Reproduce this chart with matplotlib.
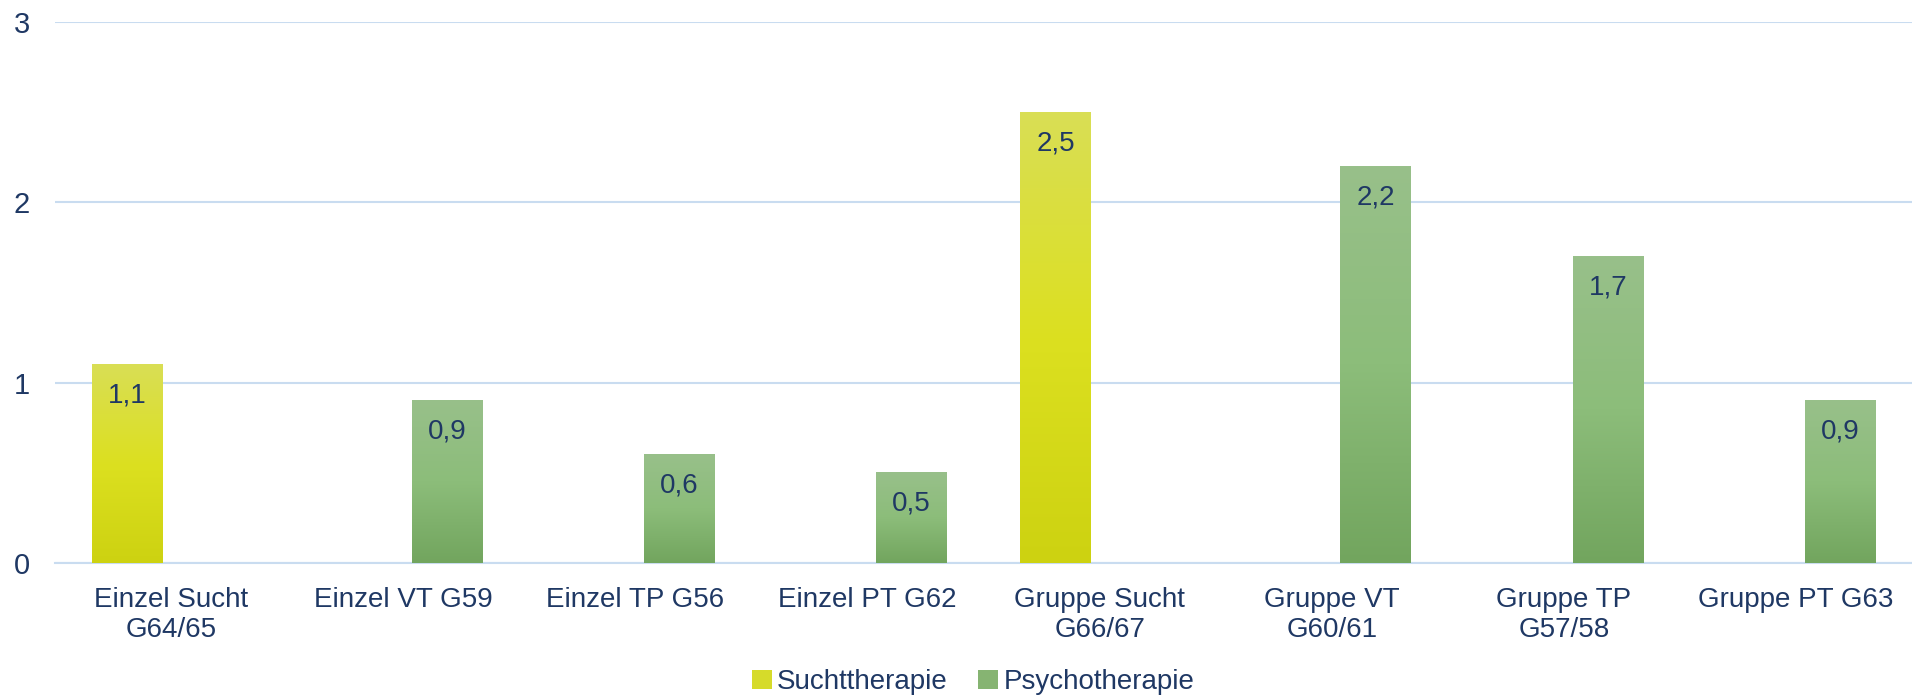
import numpy as np
import matplotlib.pyplot as plt
from matplotlib.colors import LinearSegmentedColormap
from matplotlib.patches import Patch

plt.rcParams['font.family'] = ['Liberation Sans', 'DejaVu Sans']

categories = ['Einzel Sucht\nG64/65', 'Einzel VT G59', 'Einzel TP G56', 'Einzel PT G62',
              'Gruppe Sucht\nG66/67', 'Gruppe VT\nG60/61', 'Gruppe TP\nG57/58', 'Gruppe PT G63']
sucht = [1.1, None, None, None, 2.5, None, None, None]
psycho = [None, 0.9, 0.6, 0.5, None, 2.2, 1.7, 0.9]
series_names = ['Suchttherapie', 'Psychotherapie']

navy = '#1F3864'
grid_col = '#C9DCF0'
sucht_cmap = LinearSegmentedColormap.from_list('s', ['#CDD211', '#DCE020', '#D9DE55'])
psycho_cmap = LinearSegmentedColormap.from_list('p', ['#72A55E', '#8CBD7A', '#98C08A'])

fig = plt.figure(figsize=(19.12, 6.95), dpi=100)
ax = fig.add_axes([0.0288, 0.19, 0.9712, 0.778])

x = np.arange(len(categories))
width = 0.305
offset = 0.19
grad = np.linspace(0, 1, 256).reshape(-1, 1)


def draw(vals, shift, cmap):
    for xi, v in zip(x, vals):
        if v is None:
            continue
        left = xi + shift - width / 2
        ax.imshow(grad, cmap=cmap, origin='lower', aspect='auto',
                  extent=[left, left + width, 0, v], zorder=3)
        ax.annotate(f'{v:.1f}'.replace('.', ','), (xi + shift, v), xytext=(0, -13),
                    textcoords='offset points', ha='center', va='top',
                    fontsize=20, color=navy, zorder=4)


draw(sucht, -offset, sucht_cmap)
draw(psycho, offset, psycho_cmap)

ax.set_xlim(-0.5, len(categories) - 0.5)
ax.set_ylim(0, 3)
ax.set_yticks([0, 1, 2, 3])
ax.set_xticks(x)
ax.set_xticklabels(categories, fontsize=20, color=navy, linespacing=1.2)
ax.tick_params(axis='y', labelsize=21, labelcolor=navy, length=0, pad=18)
ax.tick_params(axis='x', length=0, pad=17)
ax.grid(axis='y', color=grid_col, linewidth=1.5, zorder=0)
for s in ['top', 'right', 'left']:
    ax.spines[s].set_visible(False)
ax.spines['bottom'].set_color(grid_col)
ax.spines['bottom'].set_linewidth(1.5)

handles = [Patch(facecolor='#D6DB2A', label=series_names[0]),
           Patch(facecolor='#86B472', label=series_names[1])]
leg = fig.legend(handles=handles, loc='lower center', bbox_to_anchor=(0.509, -0.036),
                 ncol=2, frameon=False, fontsize=20, handlelength=0.7, handleheight=0.7,
                 handletextpad=0.2, columnspacing=1.1)
for t in leg.get_texts():
    t.set_color(navy)

fig.savefig('out.png', dpi=100)
